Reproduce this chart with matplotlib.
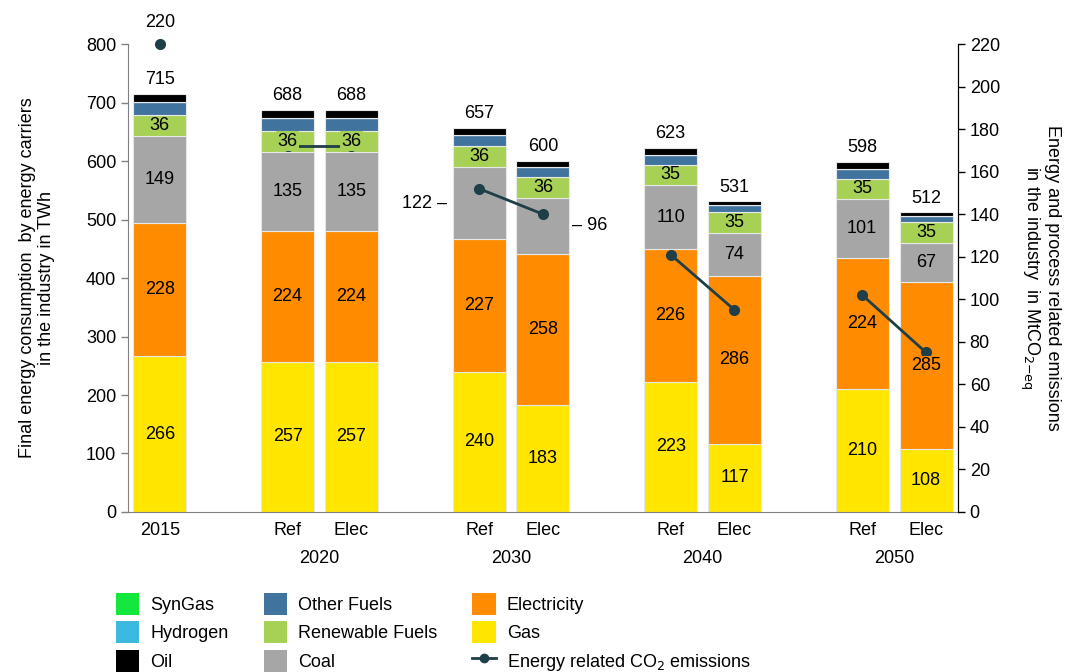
import matplotlib.pyplot as plt
from matplotlib.patches import Patch
from matplotlib.lines import Line2D

plt.rcParams['font.family'] = ['Liberation Sans', 'DejaVu Sans']

# bars: 2015, then Ref/Elec for each scenario year
bar_names = ['2015', 'Ref', 'Elec', 'Ref', 'Elec', 'Ref', 'Elec', 'Ref', 'Elec']
years = ['2020', '2030', '2040', '2050']
gas = [266, 257, 257, 240, 183, 223, 117, 210, 108]
electricity = [228, 224, 224, 227, 258, 226, 286, 224, 285]
coal = [149, 135, 135, 122, 96, 110, 74, 101, 67]
renewable = [36, 36, 36, 36, 36, 35, 35, 35, 35]
other_fuels = [22, 22, 22, 20, 17, 16, 13, 16, 11]
hydrogen = [0, 0, 0, 0, 0, 0, 0, 0, 0]
syngas = [0, 0, 0, 0, 0, 0, 0, 0, 0]
oil = [14, 14, 14, 12, 10, 13, 6, 12, 6]
totals = [715, 688, 688, 657, 600, 623, 531, 598, 512]
co2 = [220, 172, 172, 152, 140, 121, 95, 102, 75]

colors = {'SynGas': '#14E83C', 'Hydrogen': '#3CB9E0', 'Oil': '#000000',
          'Other Fuels': '#41739F', 'Renewable Fuels': '#A6D154', 'Coal': '#A6A6A6',
          'Electricity': '#FF8C00', 'Gas': '#FFE600'}
line_col = '#1E3F48'

# x positions: 2015 alone, then pairs with a gap
xpos = [0]
for i in range(len(years)):
    xpos += [2 + 3 * i, 3 + 3 * i]

fig = plt.figure(figsize=(10.69, 6.72), dpi=100)
ax = fig.add_axes([0.1197, 0.2381, 0.7764, 0.6964])
ax2 = ax.twinx()

series = [('Gas', gas), ('Electricity', electricity), ('Coal', coal),
          ('Renewable Fuels', renewable), ('Other Fuels', other_fuels),
          ('Hydrogen', hydrogen), ('SynGas', syngas), ('Oil', oil)]
bottom = [0] * len(xpos)
bottoms = {}
for name, vals in series:
    bottoms[name] = list(bottom)
    ax.bar(xpos, vals, 0.83, bottom=bottom, color=colors[name],
           edgecolor='#E8E8E8', linewidth=0.8, zorder=2)
    bottom = [b + v for b, v in zip(bottom, vals)]

fs = 13
# segment labels (on ax2 so they sit above the emission line)
for name, vals in series[:4]:
    for i, (x, v) in enumerate(zip(xpos, vals)):
        y = bottoms[name][i] + v / 2
        if name == 'Coal' and i in (3, 4):
            continue
        kw = {}
        if name == 'Renewable Fuels' and i in (1, 2):
            kw['bbox'] = dict(facecolor=colors[name], edgecolor='none', pad=1)
        if name == 'Electricity' and i == 8:
            kw['bbox'] = dict(facecolor=colors[name], edgecolor='none', pad=0.5)
        ax2.text(x, y, str(v), transform=ax.transData, ha='center', va='center',
                 fontsize=fs, zorder=6, **kw)

# coal labels for 2030 placed beside the bars
ax2.text(xpos[3] - 0.5, bottoms['Coal'][3] + 60, '%d \u2013' % coal[3],
         transform=ax.transData, ha='right', va='center', fontsize=fs)
ax2.text(xpos[4] + 0.46, bottoms['Coal'][4] + 48, '\u2013 %d' % coal[4],
         transform=ax.transData, ha='left', va='center', fontsize=fs)

for x, t in zip(xpos, totals):
    ax.text(x, t + 10, str(t), ha='center', va='bottom', fontsize=fs)

# emissions line, one segment per scenario year
ax2.plot(xpos[:1], co2[:1], color=line_col, marker='o', ms=7, zorder=4, clip_on=False)
ax2.text(xpos[0], co2[0] + 6, str(co2[0]), ha='center', va='bottom', fontsize=fs)
for i in range(len(years)):
    a, b = 1 + 2 * i, 3 + 2 * i
    ax2.plot(xpos[a:b], co2[a:b], color=line_col, lw=2, marker='o', ms=7, zorder=4)

ax.set_xlim(-0.5, 12.5)
ax.set_ylim(0, 800)
ax.set_yticks(range(0, 801, 100))
ax2.set_ylim(0, 220)
ax2.set_yticks(range(0, 221, 20))

ax.set_xticks(xpos)
ax.set_xticklabels(bar_names)
for i, yr in enumerate(years):
    ax.text((xpos[1 + 2 * i] + xpos[2 + 2 * i]) / 2, -0.1, yr,
            transform=ax.get_xaxis_transform(), ha='center', va='center', fontsize=fs)

for a in (ax, ax2):
    a.tick_params(labelsize=fs, direction='out', length=5, width=1)
    a.spines['top'].set_visible(False)
ax.tick_params(axis='x', length=0, pad=7)
ax.spines['left'].set_color('#808080')
ax.spines['bottom'].set_color('#808080')
ax.tick_params(axis='y', color='#808080')
ax2.spines['left'].set_visible(False)
ax2.spines['bottom'].set_visible(False)

ax.set_ylabel('Final energy consumption  by energy carriers\nin the industry in TWh',
              fontsize=fs, labelpad=22)
ax2.set_ylabel('Energy and process related emissions\nin the industry  in MtCO$_{2\\mathrm{-eq}}$',
               fontsize=fs, rotation=270, labelpad=44)

handles = [Patch(facecolor=colors[n]) for n in
           ['SynGas', 'Hydrogen', 'Oil', 'Other Fuels', 'Renewable Fuels', 'Coal',
            'Electricity', 'Gas']]
handles.append(Line2D([], [], color=line_col, lw=2, marker='o', ms=6))
labels = ['SynGas', 'Hydrogen', 'Oil', 'Other Fuels', 'Renewable Fuels', 'Coal',
          'Electricity', 'Gas', 'Energy related CO$_2$ emissions']
fig.legend(handles, labels, ncol=3, loc='upper left', bbox_to_anchor=(0.1, 0.131),
           frameon=False, fontsize=fs, handlelength=1.3, handleheight=1.5,
           handletextpad=0.6, columnspacing=1.95, labelspacing=0.35, borderpad=0)

fig.savefig('out.png', dpi=100)
